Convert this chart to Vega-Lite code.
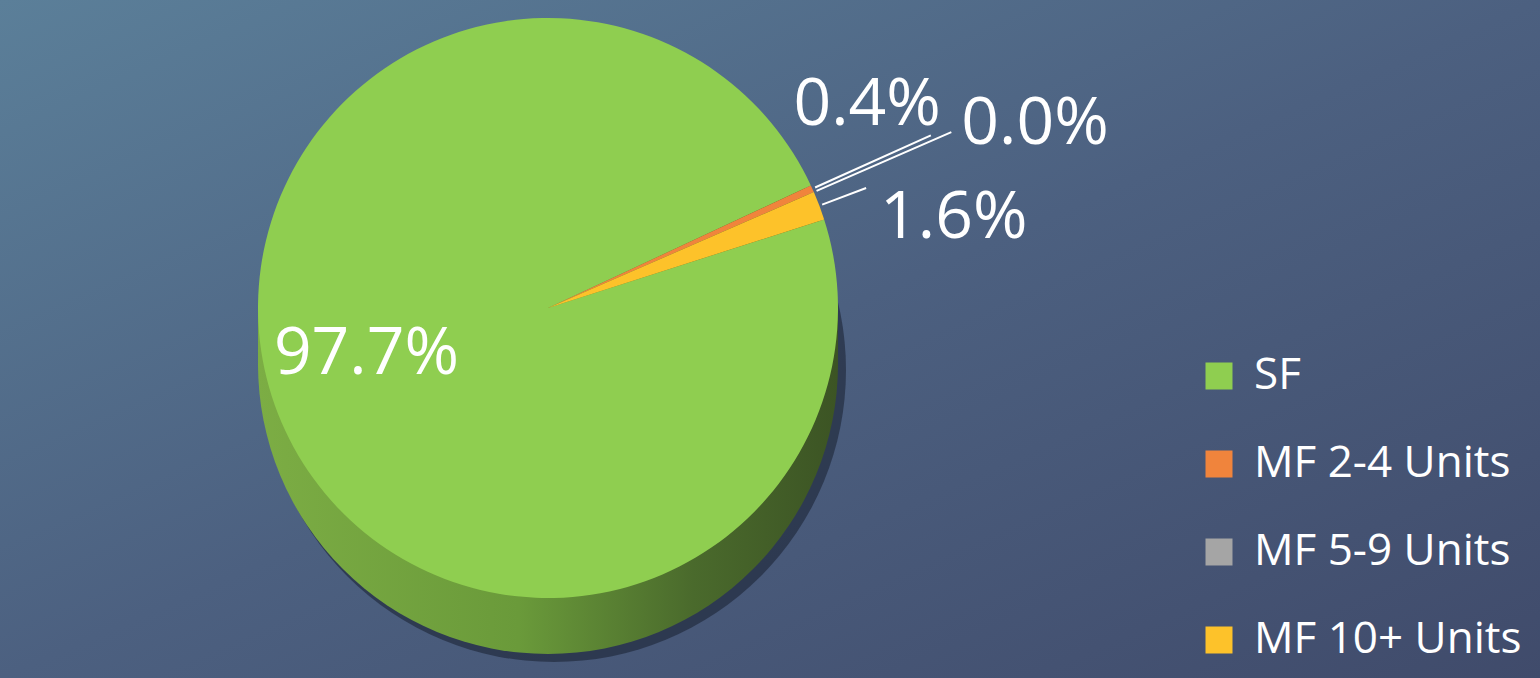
{
  "$schema": "https://vega.github.io/schema/vega-lite/v6.json",
  "width": 1540,
  "height": 678,
  "padding": 0,
  "autosize": {"type": "none"},
  "background": "#4c6282",
  "datasets": {
    "pie": [
      {"cat": "SF", "v": 97.7, "idx": 1, "label": "97.7%"},
      {"cat": "MF 2-4 Units", "v": 0.4, "idx": 2, "label": "0.4%"},
      {"cat": "MF 5-9 Units", "v": 0.0, "idx": 3, "label": "0.0%"},
      {"cat": "MF 10+ Units", "v": 1.6, "idx": 4, "label": "1.6%"}
    ],
    "one": [{"k": 1}]
  },
  "data": {"name": "pie"},
  "config": {
    "view": {"stroke": null},
    "font": "Open Sans",
    "legend": {
      "orient": "none",
      "legendX": 1197,
      "legendY": 354,
      "padding": 0,
      "offset": 0,
      "symbolType": "square",
      "symbolSize": 729,
      "symbolStrokeWidth": 0,
      "labelFontSize": 44,
      "labelColor": "white",
      "labelFont": "Open Sans",
      "labelOffset": 13,
      "labelLimit": 400,
      "rowPadding": 44,
      "title": null
    }
  },
  "layer": [
    {
      "data": {"name": "one"},
      "mark": {
        "type": "rect",
        "fill": {
          "gradient": "linear", "x1": 0, "y1": 0, "x2": 1, "y2": 1,
          "stops": [{"offset": 0, "color": "#5b7f99"}, {"offset": 0.5, "color": "#4c6080"}, {"offset": 1, "color": "#404b6b"}]
        }
      },
      "encoding": {"x": {"value": 0}, "x2": {"value": "width"}, "y": {"value": 0}, "y2": {"value": "height"}}
    },
    {
      "data": {"name": "one"},
      "mark": {"type": "arc", "theta": 0, "theta2": 6.2832, "radius": 292, "fill": "#1c2436", "opacity": 0.6, "xOffset": 6, "yOffset": 62},
      "encoding": {"x": {"value": 548}, "y": {"value": 308}}
    },
    {
      "data": {"name": "one"},
      "mark": {"type": "arc", "theta": 0, "theta2": 6.2832, "radius": 290, "yOffset": 56,
        "fill": {"gradient": "linear", "x1": 0, "y1": 0, "x2": 1, "y2": 0,
          "stops": [{"offset": 0, "color": "#7cad44"}, {"offset": 0.45, "color": "#6a9a3a"}, {"offset": 0.75, "color": "#4a6a2c"}, {"offset": 1, "color": "#3c5424"}]}},
      "encoding": {"x": {"value": 548}, "y": {"value": 308}}
    },
    {
      "data": {"name": "one"},
      "mark": {"type": "arc", "theta": 0, "theta2": 6.2832, "radius": 290, "yOffset": 42,
        "fill": {"gradient": "linear", "x1": 0, "y1": 0, "x2": 1, "y2": 0,
          "stops": [{"offset": 0, "color": "#7cad44"}, {"offset": 0.45, "color": "#6a9a3a"}, {"offset": 0.75, "color": "#4a6a2c"}, {"offset": 1, "color": "#3c5424"}]}},
      "encoding": {"x": {"value": 548}, "y": {"value": 308}}
    },
    {
      "data": {"name": "one"},
      "mark": {"type": "arc", "theta": 0, "theta2": 6.2832, "radius": 290, "yOffset": 28,
        "fill": {"gradient": "linear", "x1": 0, "y1": 0, "x2": 1, "y2": 0,
          "stops": [{"offset": 0, "color": "#7cad44"}, {"offset": 0.45, "color": "#6a9a3a"}, {"offset": 0.75, "color": "#4a6a2c"}, {"offset": 1, "color": "#3c5424"}]}},
      "encoding": {"x": {"value": 548}, "y": {"value": 308}}
    },
    {
      "data": {"name": "one"},
      "mark": {"type": "arc", "theta": 0, "theta2": 6.2832, "radius": 290, "yOffset": 14,
        "fill": {"gradient": "linear", "x1": 0, "y1": 0, "x2": 1, "y2": 0,
          "stops": [{"offset": 0, "color": "#7cad44"}, {"offset": 0.45, "color": "#6a9a3a"}, {"offset": 0.75, "color": "#4a6a2c"}, {"offset": 1, "color": "#3c5424"}]}},
      "encoding": {"x": {"value": 548}, "y": {"value": 308}}
    },
    {
      "mark": {"type": "arc", "radius": 290},
      "encoding": {
        "x": {"value": 548},
        "y": {"value": 308},
        "theta": {"field": "v", "type": "quantitative", "stack": true, "scale": {"domain": [0, 99.7], "range": [1.2605, 7.5437]}},
        "order": {"field": "idx", "type": "quantitative"},
        "color": {
          "field": "cat", "type": "nominal",
          "scale": {"domain": ["SF", "MF 2-4 Units", "MF 5-9 Units", "MF 10+ Units"], "range": ["#8fce50", "#f0843c", "#a5a5a5", "#fdc22a"]},
          "sort": ["SF", "MF 2-4 Units", "MF 5-9 Units", "MF 10+ Units"],
          "legend": {"title": null}
        }
      }
    },
    {
      "mark": {"type": "arc", "padAngle": 0.6, "radius": 420, "radius2": 293, "stroke": "white", "strokeWidth": 2, "fillOpacity": 0},
      "encoding": {
        "x": {"value": 548},
        "y": {"value": 308},
        "theta": {"field": "v", "type": "quantitative", "stack": true, "scale": {"domain": [0, 99.7], "range": [1.2605, 7.5437]}},
        "order": {"field": "idx", "type": "quantitative"},
        "strokeOpacity": {"condition": {"test": "datum.cat === 'MF 2-4 Units'", "value": 1}, "value": 0}
      }
    },
    {
      "mark": {"type": "arc", "padAngle": 0.6, "radius": 440, "radius2": 293, "stroke": "white", "strokeWidth": 2, "fillOpacity": 0},
      "encoding": {
        "x": {"value": 548},
        "y": {"value": 308},
        "theta": {"field": "v", "type": "quantitative", "stack": true, "scale": {"domain": [0, 99.7], "range": [1.2605, 7.5437]}},
        "order": {"field": "idx", "type": "quantitative"},
        "strokeOpacity": {"condition": {"test": "datum.cat === 'MF 5-9 Units'", "value": 1}, "value": 0}
      }
    },
    {
      "mark": {"type": "arc", "padAngle": 0.6, "radius": 340, "radius2": 293, "stroke": "white", "strokeWidth": 2, "fillOpacity": 0},
      "encoding": {
        "x": {"value": 548},
        "y": {"value": 308},
        "theta": {"field": "v", "type": "quantitative", "stack": true, "scale": {"domain": [0, 99.7], "range": [1.2605, 7.5437]}},
        "order": {"field": "idx", "type": "quantitative"},
        "strokeOpacity": {"condition": {"test": "datum.cat === 'MF 10+ Units'", "value": 1}, "value": 0}
      }
    },
    {
      "mark": {"type": "text", "radius": 195, "dy": -25, "fontSize": 66, "fill": "white", "align": "center", "baseline": "middle", "font": "Open Sans"},
      "encoding": {
        "x": {"value": 548},
        "y": {"value": 308},
        "theta": {"field": "v", "type": "quantitative", "stack": true, "scale": {"domain": [0, 99.7], "range": [1.2605, 7.5437]}},
        "order": {"field": "idx", "type": "quantitative"},
        "text": {"condition": {"test": "datum.cat === 'SF'", "field": "label"}, "value": ""}
      }
    },
    {
      "mark": {"type": "text", "radius": 420, "dx": 10, "dy": -10, "fontSize": 66, "fill": "white", "align": "right", "baseline": "alphabetic", "font": "Open Sans"},
      "encoding": {
        "x": {"value": 548},
        "y": {"value": 308},
        "theta": {"field": "v", "type": "quantitative", "stack": true, "scale": {"domain": [0, 99.7], "range": [1.2605, 7.5437]}},
        "order": {"field": "idx", "type": "quantitative"},
        "text": {"condition": {"test": "datum.cat === 'MF 2-4 Units'", "field": "label"}, "value": ""}
      }
    },
    {
      "mark": {"type": "text", "radius": 440, "dx": 10, "dy": -8, "fontSize": 66, "fill": "white", "align": "left", "baseline": "middle", "font": "Open Sans"},
      "encoding": {
        "x": {"value": 548},
        "y": {"value": 308},
        "theta": {"field": "v", "type": "quantitative", "stack": true, "scale": {"domain": [0, 99.7], "range": [1.2605, 7.5437]}},
        "order": {"field": "idx", "type": "quantitative"},
        "text": {"condition": {"test": "datum.cat === 'MF 5-9 Units'", "field": "label"}, "value": ""}
      }
    },
    {
      "mark": {"type": "text", "radius": 340, "dx": 14, "dy": 30, "fontSize": 66, "fill": "white", "align": "left", "baseline": "middle", "font": "Open Sans"},
      "encoding": {
        "x": {"value": 548},
        "y": {"value": 308},
        "theta": {"field": "v", "type": "quantitative", "stack": true, "scale": {"domain": [0, 99.7], "range": [1.2605, 7.5437]}},
        "order": {"field": "idx", "type": "quantitative"},
        "text": {"condition": {"test": "datum.cat === 'MF 10+ Units'", "field": "label"}, "value": ""}
      }
    }
  ]
}
